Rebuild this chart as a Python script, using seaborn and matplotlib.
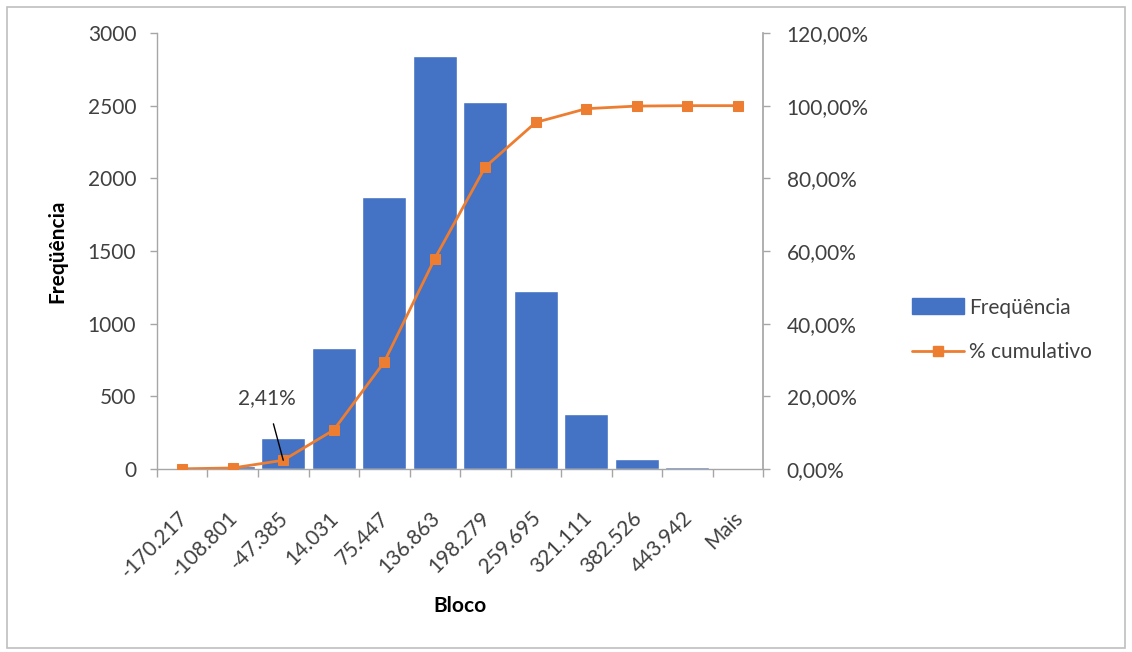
import numpy as np
import pandas as pd
import matplotlib
matplotlib.use("Agg")
import matplotlib.pyplot as plt
from matplotlib.patches import Rectangle, Patch
from matplotlib.lines import Line2D
from matplotlib.ticker import FuncFormatter, FixedLocator, NullFormatter
from matplotlib.transforms import ScaledTranslation
import seaborn as sns

# Histogram bins and counts
blocos = ["-170.217", "-108.801", "-47.385", "14.031", "75.447", "136.863",
          "198.279", "259.695", "321.111", "382.526", "443.942", "Mais"]
frequencia = [5, 23, 213, 833, 1872, 2842, 2526, 1225, 378, 72, 11, 0]

df = pd.DataFrame({"Bloco": blocos, "Freqüência": frequencia})
df["cumulativo"] = np.cumsum(df["Freqüência"]) / df["Freqüência"].sum() * 100
df["pos"] = np.arange(len(df))

sns.set_theme(style="white")
plt.rcParams["font.family"] = ["Lato", "DejaVu Sans"]

BAR = "#4472C4"
LINE = "#ED7D31"
GRID = "#A6A6A6"
TXT = "#404040"
FS = 15

fig = plt.figure(figsize=(11.32, 6.52), dpi=100)
fig.patches.append(Rectangle((7 / 1132, 4 / 652), 1118 / 1132, 641 / 652,
                             transform=fig.transFigure, fill=False,
                             edgecolor="#BFBFBF", linewidth=1.2))

ax = fig.add_axes([157 / 1132, 1 - 469 / 652, (763 - 157) / 1132, (469 - 33) / 652])
sns.barplot(data=df, x="Bloco", y="Freqüência", color=BAR, width=0.87,
            saturation=1, ax=ax, order=blocos)
ax.set_xlim(-0.5, len(blocos) - 0.5)
ax.set_ylim(0, 3000)
ax.set_yticks(np.arange(0, 3001, 500))
ax.tick_params(axis="y", labelsize=FS, colors=GRID, labelcolor=TXT,
               length=5, width=1, direction="out", pad=10, left=True)
ax.set_xticks(range(len(blocos)))
ax.set_xticklabels(blocos, rotation=45, ha="right", rotation_mode="anchor",
                   fontsize=FS, color=TXT)
ax.tick_params(axis="x", which="major", length=0, pad=28)
ax.xaxis.set_minor_locator(FixedLocator(np.arange(-0.5, len(blocos), 1.0)))
ax.xaxis.set_minor_formatter(NullFormatter())
ax.tick_params(axis="x", which="minor", length=6, width=1, color=GRID,
               direction="out", bottom=True)
# nudge the rotated category labels slightly left of the bar centres
nudge = ScaledTranslation(-5 / 100, 0, fig.dpi_scale_trans)
for lbl in ax.get_xticklabels():
    lbl.set_transform(lbl.get_transform() + nudge)
for side in ["top", "right"]:
    ax.spines[side].set_visible(False)
for side in ["left", "bottom"]:
    ax.spines[side].set_color(GRID)
    ax.spines[side].set_linewidth(1)
ax.set_xlabel("Bloco", fontsize=FS, fontweight="bold", color="black")
ax.set_ylabel("Freqüência", fontsize=FS, fontweight="bold", color="black")
ax.xaxis.set_label_coords(0.5, (469 - 606) / 436)
ax.xaxis.label.set_va("center")
ax.yaxis.set_label_coords((57 - 157) / 606, 0.5)
ax.yaxis.label.set_va("center")

ax2 = ax.twinx()
sns.lineplot(data=df, x="pos", y="cumulativo", color=LINE, linewidth=2,
             marker="s", markersize=7.5, markeredgecolor=LINE, ax=ax2)
ax2.set_xlim(-0.5, len(blocos) - 0.5)
ax2.set_ylim(0, 120)
ax2.set_yticks(np.arange(0, 121, 20))
ax2.yaxis.set_major_formatter(FuncFormatter(lambda v, p: f"{v:.2f}%".replace(".", ",")))
ax2.tick_params(axis="y", labelsize=FS, colors=GRID, labelcolor=TXT,
                length=5, width=1, direction="out", pad=12, right=True)
ax2.set_ylabel("")
ax2.set_xlabel("")
for side in ["top", "left", "bottom"]:
    ax2.spines[side].set_visible(False)
ax2.spines["right"].set_color(GRID)

# Label for the third cumulative point
i = 2
ax2.annotate(f"{df['cumulativo'][i]:.2f}%".replace(".", ","),
             xy=(df["pos"][i], df["cumulativo"][i]),
             xytext=(df["pos"][i] - 0.33, df["cumulativo"][i] + 17),
             fontsize=FS, color=TXT, ha="center", va="center",
             arrowprops=dict(arrowstyle="-", color="black", lw=1,
                             shrinkA=9, shrinkB=0))

handles = [Patch(facecolor=BAR, edgecolor=BAR),
           Line2D([0], [0], color=LINE, lw=2, marker="s", markersize=7.5)]
fig.legend(handles, ["Freqüência", "% cumulativo"], loc="center left",
           bbox_to_anchor=(893 / 1132, 1 - 330 / 652), frameon=False,
           fontsize=FS, labelcolor=TXT, handlelength=2.5, handleheight=0.77,
           handletextpad=0.25, labelspacing=1.2)

fig.savefig("out.png", dpi=100)
